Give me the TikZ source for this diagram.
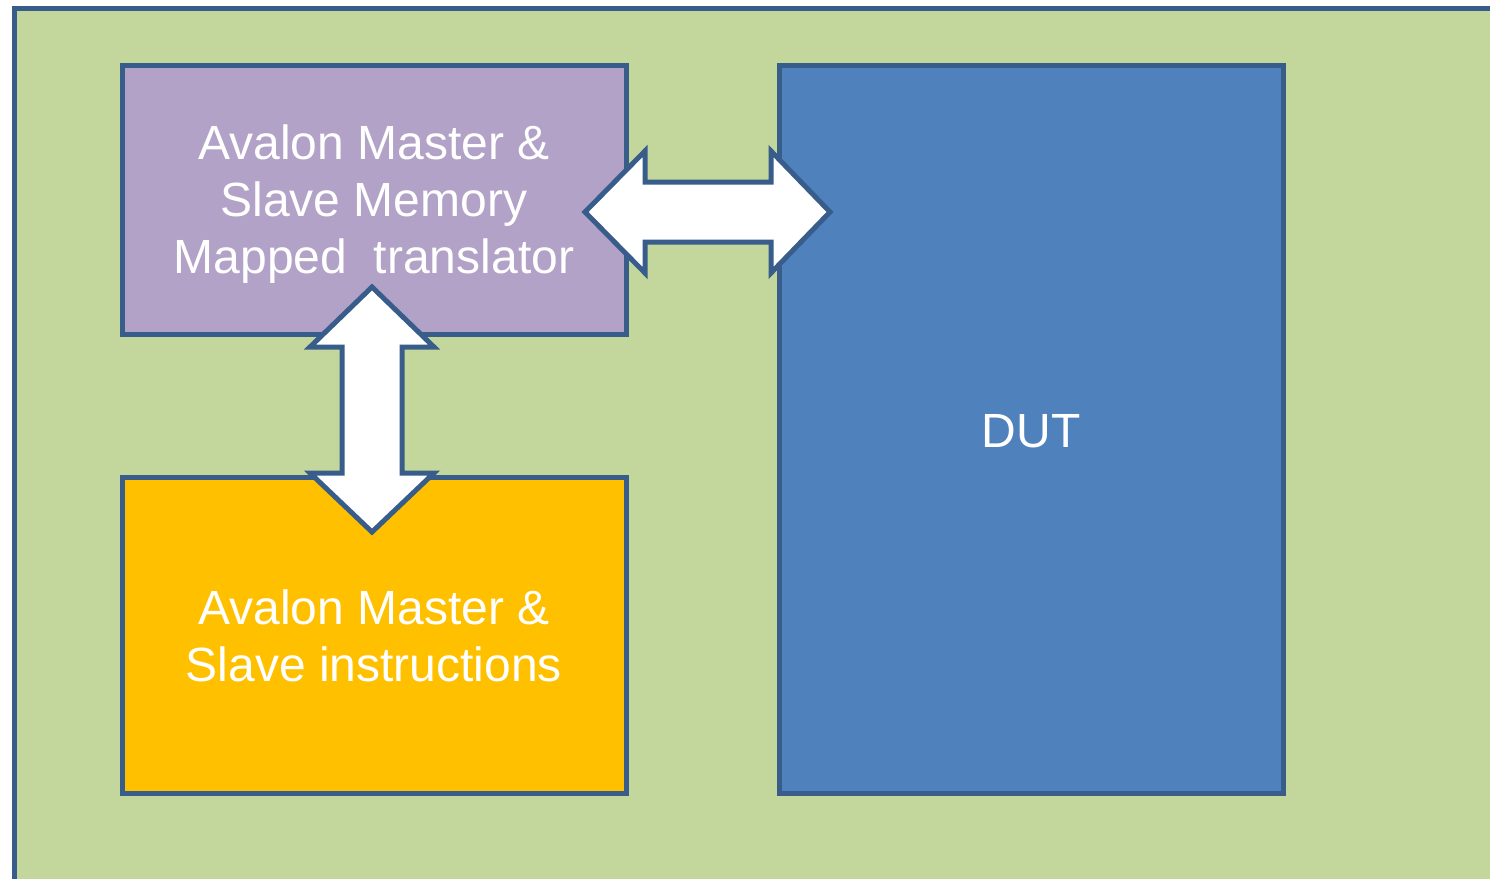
\documentclass[tikz,border=0pt]{standalone}
\usepackage{fontspec}
\setmainfont{Liberation Sans}
\definecolor{frame}{HTML}{385D8A}
\definecolor{benchgreen}{HTML}{C3D69B}
\definecolor{xlatepurple}{HTML}{B2A2C7}
\definecolor{instrorange}{HTML}{FFC000}
\definecolor{dutblue}{HTML}{4F81BD}
\tikzset{
  block/.style={draw=frame, line width=5pt, inner sep=0pt},
  caption/.style={text=white, align=center,
    font=\fontsize{48}{57}\selectfont, inner sep=0pt},
  blockarrow/.style={draw=frame, line width=5pt, fill=white, line join=miter}
}
\begin{document}
\begin{tikzpicture}[x=1pt,y=-1pt]
\useasboundingbox (0,0) rectangle (1490,878);
\clip (0,0) rectangle (1490,878);
\fill[white] (0,0) rectangle (1490,878);
% testbench frame, running off the right and bottom edges
\draw[draw=frame, fill=benchgreen, line width=5.5pt] (14.5,8.5) rectangle (1500,890);

\node[block, fill=xlatepurple, minimum width=504pt, minimum height=269pt]
  (xlate) at (374,199.5) {};
\node[caption] (xlatetext) at ([yshift=-5pt]xlate.center)
  {Avalon Master \&\\Slave Memory\\Mapped\ \ translator};
\node[block, fill=instrorange, minimum width=504pt, minimum height=316pt]
  (instr) at (374,635) {};
\node[caption] (instrtext) at ([yshift=-1pt]instr.center)
  {Avalon Master \&\\Slave instructions};
\node[block, fill=dutblue, minimum width=504pt, minimum height=728pt]
  (dut) at (1031,429) {};
\node[caption] (duttext) at ([yshift=-2pt]dut.center) {DUT};

% double arrow between translator and DUT
\coordinate (hl) at (585,212);
\coordinate (hr) at (830,212);
\draw[blockarrow] (hl) -- ++(60,-61) -- ++(0,31) -- ++(126,0) -- ++(0,-31)
  -- (hr) -- ++(-59,61) -- ++(0,-31) -- ++(-126,0) -- ++(0,31) -- cycle;

% double arrow between translator and instructions
\coordinate (vt) at (372,287);
\coordinate (vb) at (372,532);
\draw[blockarrow] (vt) -- ++(62,60) -- ++(-32,0) -- ++(0,126) -- ++(32,0)
  -- (vb) -- ++(-62,-59) -- ++(32,0) -- ++(0,-126) -- ++(-32,0) -- cycle;
\end{tikzpicture}
\end{document}
